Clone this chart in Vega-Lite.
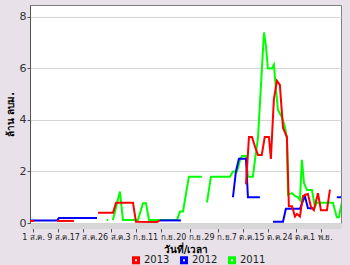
{
  "$schema": "https://vega.github.io/schema/vega-lite/v6.json",
  "width": 311,
  "height": 218,
  "autosize": {"type": "none"},
  "padding": {"left": 30, "top": 5, "right": 9, "bottom": 42},
  "background": "#e9e1e9",
  "config": {
    "view": {"fill": "white", "stroke": "#808080", "strokeWidth": 1},
    "font": "DejaVu Sans"
  },
  "data": {
    "values": [
      {"date": "2013-08-24T12:00", "year": "2011", "seg": "g0", "v": 0.12},
      {"date": "2013-08-25T00:00", "year": "2011", "seg": "g0", "v": 0.12},
      {"date": "2013-08-26T12:00", "year": "2011", "seg": "g1", "v": 0.12},
      {"date": "2013-08-28T18:00", "year": "2011", "seg": "g1", "v": 1.22},
      {"date": "2013-08-29T17:00", "year": "2011", "seg": "g1", "v": 0.12},
      {"date": "2013-09-03T12:00", "year": "2011", "seg": "g1", "v": 0.12},
      {"date": "2013-09-05T03:00", "year": "2011", "seg": "g1", "v": 0.77},
      {"date": "2013-09-06T02:00", "year": "2011", "seg": "g1", "v": 0.77},
      {"date": "2013-09-07T01:00", "year": "2011", "seg": "g1", "v": 0.12},
      {"date": "2013-09-16T00:00", "year": "2011", "seg": "g1", "v": 0.12},
      {"date": "2013-09-16T23:00", "year": "2011", "seg": "g1", "v": 0.45},
      {"date": "2013-09-17T22:00", "year": "2011", "seg": "g1", "v": 0.45},
      {"date": "2013-09-19T19:00", "year": "2011", "seg": "g1", "v": 1.8},
      {"date": "2013-09-23T23:00", "year": "2011", "seg": "g1", "v": 1.8},
      {"date": "2013-09-25T14:00", "year": "2011", "seg": "g2", "v": 0.8},
      {"date": "2013-09-26T20:00", "year": "2011", "seg": "g2", "v": 1.8},
      {"date": "2013-10-02T22:00", "year": "2011", "seg": "g2", "v": 1.8},
      {"date": "2013-10-03T21:00", "year": "2011", "seg": "g2", "v": 2.0},
      {"date": "2013-10-05T04:00", "year": "2011", "seg": "g2", "v": 2.0},
      {"date": "2013-10-06T03:00", "year": "2011", "seg": "g2", "v": 2.44},
      {"date": "2013-10-06T18:00", "year": "2011", "seg": "g2", "v": 2.6},
      {"date": "2013-10-08T01:00", "year": "2011", "seg": "g2", "v": 2.6},
      {"date": "2013-10-08T16:00", "year": "2011", "seg": "g2", "v": 1.8},
      {"date": "2013-10-10T06:00", "year": "2011", "seg": "g2", "v": 1.8},
      {"date": "2013-10-10T22:00", "year": "2011", "seg": "g2", "v": 2.45},
      {"date": "2013-10-11T21:00", "year": "2011", "seg": "g2", "v": 3.3},
      {"date": "2013-10-13T19:00", "year": "2011", "seg": "g2", "v": 7.4},
      {"date": "2013-10-14T10:00", "year": "2011", "seg": "g2", "v": 6.9},
      {"date": "2013-10-15T01:00", "year": "2011", "seg": "g2", "v": 6.0},
      {"date": "2013-10-16T08:00", "year": "2011", "seg": "g2", "v": 6.0},
      {"date": "2013-10-16T23:00", "year": "2011", "seg": "g2", "v": 6.15},
      {"date": "2013-10-17T15:00", "year": "2011", "seg": "g2", "v": 5.2},
      {"date": "2013-10-18T06:00", "year": "2011", "seg": "g2", "v": 4.4},
      {"date": "2013-10-19T13:00", "year": "2011", "seg": "g2", "v": 4.1},
      {"date": "2013-10-20T12:00", "year": "2011", "seg": "g2", "v": 3.73},
      {"date": "2013-10-21T03:00", "year": "2011", "seg": "g2", "v": 3.3},
      {"date": "2013-10-21T11:00", "year": "2011", "seg": "g2", "v": 1.1},
      {"date": "2013-10-22T18:00", "year": "2011", "seg": "g2", "v": 1.16},
      {"date": "2013-10-23T17:00", "year": "2011", "seg": "g2", "v": 1.05},
      {"date": "2013-10-24T16:00", "year": "2011", "seg": "g2", "v": 1.0},
      {"date": "2013-10-25T07:00", "year": "2011", "seg": "g2", "v": 0.89},
      {"date": "2013-10-25T22:00", "year": "2011", "seg": "g2", "v": 2.45},
      {"date": "2013-10-26T14:00", "year": "2011", "seg": "g2", "v": 1.55},
      {"date": "2013-10-27T13:00", "year": "2011", "seg": "g2", "v": 1.28},
      {"date": "2013-10-29T03:00", "year": "2011", "seg": "g2", "v": 1.28},
      {"date": "2013-10-30T02:00", "year": "2011", "seg": "g2", "v": 0.63},
      {"date": "2013-10-30T17:00", "year": "2011", "seg": "g2", "v": 0.79},
      {"date": "2013-11-03T21:00", "year": "2011", "seg": "g2", "v": 0.79},
      {"date": "2013-11-04T20:00", "year": "2011", "seg": "g2", "v": 0.79},
      {"date": "2013-11-06T02:00", "year": "2011", "seg": "g2", "v": 0.22},
      {"date": "2013-11-06T18:00", "year": "2011", "seg": "g2", "v": 0.22},
      {"date": "2013-11-07T22:00", "year": "2011", "seg": "g2", "v": 0.95},

      {"date": "2013-07-31T00:00", "year": "2012", "seg": "b1", "v": 0.1},
      {"date": "2013-08-08T15:00", "year": "2012", "seg": "b1", "v": 0.1},
      {"date": "2013-08-09T06:00", "year": "2012", "seg": "b1", "v": 0.19},
      {"date": "2013-08-21T10:00", "year": "2012", "seg": "b1", "v": 0.19},
      {"date": "2013-09-10T13:00", "year": "2012", "seg": "b2", "v": 0.1},
      {"date": "2013-09-17T06:00", "year": "2012", "seg": "b2", "v": 0.1},
      {"date": "2013-10-03T21:00", "year": "2012", "seg": "b3", "v": 1.0},
      {"date": "2013-10-04T20:00", "year": "2012", "seg": "b3", "v": 2.0},
      {"date": "2013-10-05T19:00", "year": "2012", "seg": "b3", "v": 2.5},
      {"date": "2013-10-08T01:00", "year": "2012", "seg": "b3", "v": 2.5},
      {"date": "2013-10-08T16:00", "year": "2012", "seg": "b3", "v": 1.0},
      {"date": "2013-10-12T12:00", "year": "2012", "seg": "b3", "v": 1.0},
      {"date": "2013-10-16T16:00", "year": "2012", "seg": "b4", "v": 0.05},
      {"date": "2013-10-19T21:00", "year": "2012", "seg": "b4", "v": 0.05},
      {"date": "2013-10-20T19:00", "year": "2012", "seg": "b4", "v": 0.55},
      {"date": "2013-10-25T07:00", "year": "2012", "seg": "b4", "v": 0.55},
      {"date": "2013-10-26T21:00", "year": "2012", "seg": "b4", "v": 1.05},
      {"date": "2013-10-27T20:00", "year": "2012", "seg": "b4", "v": 0.58},
      {"date": "2013-10-30T02:00", "year": "2012", "seg": "b4", "v": 0.55},
      {"date": "2013-11-06T02:00", "year": "2012", "seg": "b5", "v": 1.0},
      {"date": "2013-11-07T12:00", "year": "2012", "seg": "b5", "v": 1.0},

      {"date": "2013-07-31T00:00", "year": "2013", "seg": "r1", "v": 0.08},
      {"date": "2013-08-01T07:00", "year": "2013", "seg": "r1", "v": 0.08},
      {"date": "2013-08-08T15:00", "year": "2013", "seg": "r2", "v": 0.08},
      {"date": "2013-08-14T01:00", "year": "2013", "seg": "r2", "v": 0.08},
      {"date": "2013-08-21T18:00", "year": "2013", "seg": "r3", "v": 0.4},
      {"date": "2013-08-26T13:00", "year": "2013", "seg": "r3", "v": 0.4},
      {"date": "2013-08-27T12:00", "year": "2013", "seg": "r3", "v": 0.79},
      {"date": "2013-09-01T22:00", "year": "2013", "seg": "r3", "v": 0.79},
      {"date": "2013-09-02T21:00", "year": "2013", "seg": "r3", "v": 0.05},
      {"date": "2013-09-09T14:00", "year": "2013", "seg": "r3", "v": 0.04},
      {"date": "2013-09-10T13:00", "year": "2013", "seg": "r3", "v": 0.1},
      {"date": "2013-10-08T01:00", "year": "2013", "seg": "r4", "v": 1.5},
      {"date": "2013-10-09T00:00", "year": "2013", "seg": "r4", "v": 3.34},
      {"date": "2013-10-09T23:00", "year": "2013", "seg": "r4", "v": 3.34},
      {"date": "2013-10-10T22:00", "year": "2013", "seg": "r4", "v": 2.97},
      {"date": "2013-10-11T21:00", "year": "2013", "seg": "r4", "v": 2.64},
      {"date": "2013-10-13T02:00", "year": "2013", "seg": "r4", "v": 2.64},
      {"date": "2013-10-14T01:00", "year": "2013", "seg": "r4", "v": 3.34},
      {"date": "2013-10-15T09:00", "year": "2013", "seg": "r4", "v": 3.34},
      {"date": "2013-10-16T00:00", "year": "2013", "seg": "r4", "v": 2.49},
      {"date": "2013-10-16T23:00", "year": "2013", "seg": "r4", "v": 4.8},
      {"date": "2013-10-17T22:00", "year": "2013", "seg": "r4", "v": 5.52},
      {"date": "2013-10-18T21:00", "year": "2013", "seg": "r4", "v": 5.36},
      {"date": "2013-10-19T21:00", "year": "2013", "seg": "r4", "v": 3.7},
      {"date": "2013-10-21T03:00", "year": "2013", "seg": "r4", "v": 3.34},
      {"date": "2013-10-21T18:00", "year": "2013", "seg": "r4", "v": 0.65},
      {"date": "2013-10-22T18:00", "year": "2013", "seg": "r4", "v": 0.65},
      {"date": "2013-10-23T17:00", "year": "2013", "seg": "r4", "v": 0.25},
      {"date": "2013-10-24T08:00", "year": "2013", "seg": "r4", "v": 0.35},
      {"date": "2013-10-25T07:00", "year": "2013", "seg": "r4", "v": 0.25},
      {"date": "2013-10-26T06:00", "year": "2013", "seg": "r4", "v": 1.05},
      {"date": "2013-10-27T20:00", "year": "2013", "seg": "r4", "v": 1.13},
      {"date": "2013-10-28T19:00", "year": "2013", "seg": "r4", "v": 0.63},
      {"date": "2013-10-29T18:00", "year": "2013", "seg": "r4", "v": 0.5},
      {"date": "2013-10-31T01:00", "year": "2013", "seg": "r4", "v": 1.16},
      {"date": "2013-11-01T00:00", "year": "2013", "seg": "r4", "v": 0.5},
      {"date": "2013-11-02T22:00", "year": "2013", "seg": "r4", "v": 0.5},
      {"date": "2013-11-03T21:00", "year": "2013", "seg": "r4", "v": 1.3}
    ]
  },
  "mark": {"type": "line", "strokeWidth": 2, "clip": true},
  "encoding": {
    "x": {
      "field": "date",
      "type": "temporal",
      "scale": {
        "domain": [
          {"year": 2013, "month": 7, "date": 31},
          {"year": 2013, "month": 11, "date": 7, "hours": 10}
        ]
      },
      "axis": {
        "title": "วันที่/เวลา",
        "titleFontSize": 10,
        "titleFontWeight": "bold",
        "titleColor": "#000000",
        "titlePadding": 3,
        "values": [
          {"year": 2013, "month": 8, "date": 1},
          {"year": 2013, "month": 8, "date": 9},
          {"year": 2013, "month": 8, "date": 17},
          {"year": 2013, "month": 8, "date": 26},
          {"year": 2013, "month": 9, "date": 3},
          {"year": 2013, "month": 9, "date": 11},
          {"year": 2013, "month": 9, "date": 20},
          {"year": 2013, "month": 9, "date": 29},
          {"year": 2013, "month": 10, "date": 7},
          {"year": 2013, "month": 10, "date": 15},
          {"year": 2013, "month": 10, "date": 24},
          {"year": 2013, "month": 11, "date": 1}
        ],
        "labelExpr": "date(datum.value) + ' ' + ['ม.ค.','ก.พ.','มี.ค.','เม.ย.','พ.ค.','มิ.ย.','ก.ค.','ส.ค.','ก.ย.','ต.ค.','พ.ย.','ธ.ค.'][month(datum.value)]",
        "labelFontSize": 8,
        "labelColor": "#222222",
        "labelDx": -4,
        "labelPadding": 1,
        "labelFlush": false,
        "labelOverlap": false,
        "grid": false,
        "offset": 3,
        "domainColor": "#d6d6d6",
        "domainWidth": 5,
        "tickColor": "#555555",
        "tickSize": 6
      }
    },
    "y": {
      "field": "v",
      "type": "quantitative",
      "scale": {"domain": [0, 8.466], "nice": false},
      "axis": {
        "title": "ล้าน ลบม.",
        "titleFontSize": 10,
        "titleFontWeight": "bold",
        "titleColor": "#000000",
        "titlePadding": 4,
        "values": [0, 1, 2, 3, 4, 5, 6, 7, 8, 8.466],
        "format": "d",
        "labelFontSize": 11,
        "labelColor": "#333333",
        "labelPadding": 1,
        "labelOverlap": false,
        "labelBound": false,
        "grid": true,
        "gridColor": "#d4d4d4",
        "domainColor": "#555555",
        "tickColor": "#555555",
        "tickSize": 3
      }
    },
    "color": {
      "field": "year",
      "type": "nominal",
      "scale": {"domain": ["2013", "2012", "2011"], "range": ["#ff0000", "#0000ff", "#00ff00"]},
      "legend": {
        "title": null,
        "orient": "none",
        "direction": "horizontal",
        "legendX": 101,
        "legendY": 250,
        "symbolType": "square",
        "symbolSize": 25,
        "symbolStrokeWidth": 3,
        "labelFontSize": 10,
        "labelColor": "#222222",
        "labelOffset": 3,
        "columnPadding": 5
      }
    },
    "detail": {"field": "seg"}
  }
}
